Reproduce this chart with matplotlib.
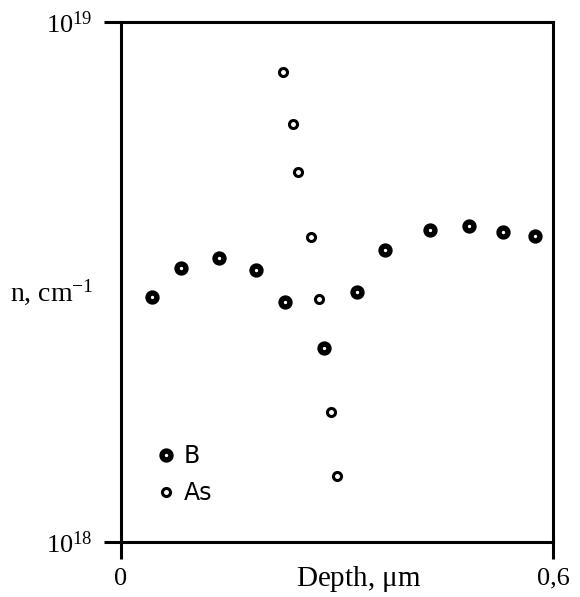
import numpy as np
import matplotlib
matplotlib.use("Agg")
import matplotlib.pyplot as plt

plt.rcParams['font.family'] = ['Liberation Serif', 'DejaVu Serif']
plt.rcParams['mathtext.fontset'] = 'custom'
plt.rcParams['mathtext.rm'] = 'Liberation Serif'
plt.rcParams['mathtext.it'] = 'Liberation Serif:italic'

# boron profile
depthB = [0.043, 0.083, 0.136, 0.188, 0.228, 0.282, 0.328, 0.367, 0.429, 0.483, 0.531, 0.575]
nB = [2.96e18, 3.36e18, 3.52e18, 3.33e18, 2.90e18, 2.36e18, 3.03e18, 3.65e18, 3.98e18, 4.06e18, 3.95e18, 3.87e18]

# arsenic profile
depthAs = [0.225, 0.239, 0.246, 0.264, 0.275, 0.292, 0.300]
nAs = [8.01e18, 6.37e18, 5.15e18, 3.86e18, 2.93e18, 1.78e18, 1.34e18]

xticks = [0, 0.6]
xticklabels = ['0', '0,6']
yticks = [1e18, 1e19]
yticklabels = ['$10^{18}$', '$10^{19}$']

fig = plt.figure(figsize=(5.8, 5.97), dpi=100)
ax = fig.add_axes([0.2086, 0.0921, 0.7448, 0.8709])

ax.plot(depthB, nB, 'o', ms=6.4, mfc='white', mec='black', mew=3.9, ls='none', label='B')
ax.plot(depthAs, nAs, 'o', ms=5.8, mfc='white', mec='black', mew=2.2, ls='none', label='As')

ax.set_yscale('log')
ax.set_xlim(0, 0.6)
ax.set_ylim(1e18, 1e19)
ax.set_xticks(xticks)
ax.set_xticklabels(xticklabels)
ax.set_yticks(yticks)
ax.set_yticklabels(yticklabels)
ax.minorticks_off()
ax.tick_params(axis='both', direction='out', length=12.5, width=2.2, labelsize=19)
ax.tick_params(axis='y', pad=8)
ax.tick_params(axis='x', pad=6)
for s in ax.spines.values():
    s.set_linewidth(2.2)

ax.text(0.55, -0.072, r'Depth, $\mathrm{\mu}$m', transform=ax.transAxes,
        ha='center', va='center', fontsize=21)
ax.text(-0.16, 0.48, r'n, cm$^{\mathrm{-1}}$', transform=ax.transAxes,
        ha='center', va='center', fontsize=20)

leg = ax.legend(loc='lower left', bbox_to_anchor=(0.031, 0.03), frameon=False,
                prop={'family': 'DejaVu Sans', 'size': 17}, handletextpad=0.3,
                labelspacing=0.55, handlelength=0.9)

fig.savefig('out.png', dpi=100)
